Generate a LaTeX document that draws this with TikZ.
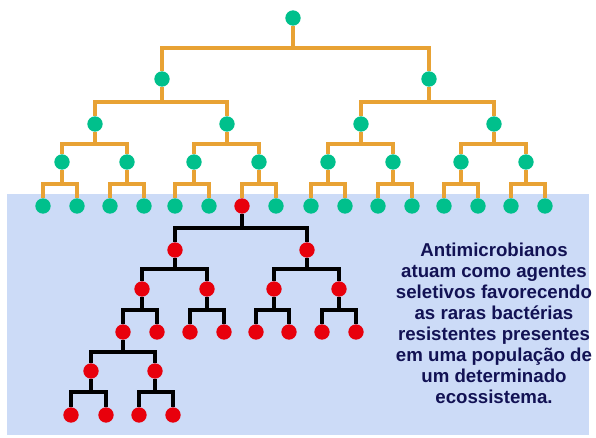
\documentclass[tikz,border=0pt]{standalone}
\usepackage{fontspec}
\setmainfont{Liberation Sans}
\usepackage{tikz}
\usepackage{xcolor}
\usetikzlibrary{shapes, arrows}

\begin{document}
\begin{tikzpicture}[x=0.75pt,y=0.75pt,yscale=-1,xscale=1,
    gdot/.style={circle, minimum size=11.5pt, inner sep=0pt, fill={rgb, 255:red, 0; green, 192; blue, 140 }},
    rdot/.style={circle, minimum size=11.5pt, inner sep=0pt, fill={rgb, 255:red, 232; green, 0; blue, 12 }},
    oline/.style={color={rgb, 255:red, 232; green, 162; blue, 52 }, line width=2.3pt},
    kline/.style={color={rgb, 255:red, 0; green, 0; blue, 0 }, line width=2.3pt}]
    \useasboundingbox (0,0) rectangle (596,437);
    \fill [white] (0,0) rectangle (596,437);

    %Background Rect
    \draw [draw opacity=0][fill={rgb, 255:red, 204; green, 219; blue, 247 }, fill opacity=1] (7,194) rectangle (589,435);

    % Bar levels
    \coordinate (b1) at (0,48);
    \coordinate (b2) at (0,102);
    \coordinate (b3) at (0,144);
    \coordinate (b4) at (0,184);
    \coordinate (c1) at (0,228);
    \coordinate (c2) at (0,269);
    \coordinate (c3) at (0,310);
    \coordinate (c4) at (0,352);
    \coordinate (c5) at (0,392);

    % Green tree
    \draw (293,18) node [gdot] (g1) {};
    \draw (162,79) node [gdot] (g2) {};
    \draw (429,79) node [gdot] (g3) {};
    \draw (95,124) node [gdot] (g4) {};
    \draw (227,124) node [gdot] (g5) {};
    \draw (361,124) node [gdot] (g6) {};
    \draw (494,124) node [gdot] (g7) {};
    \draw (62,162) node [gdot] (g8) {};
    \draw (127,162) node [gdot] (g9) {};
    \draw (194,162) node [gdot] (g10) {};
    \draw (259,162) node [gdot] (g11) {};
    \draw (328,162) node [gdot] (g12) {};
    \draw (393,162) node [gdot] (g13) {};
    \draw (461,162) node [gdot] (g14) {};
    \draw (526,162) node [gdot] (g15) {};
    \draw (43,206) node [gdot] (g16) {};
    \draw (77,206) node [gdot] (g17) {};
    \draw (110,206) node [gdot] (g18) {};
    \draw (144,206) node [gdot] (g19) {};
    \draw (175,206) node [gdot] (g20) {};
    \draw (209,206) node [gdot] (g21) {};
    \draw (242,206) node [rdot] (r1) {};
    \draw (276,206) node [gdot] (g23) {};
    \draw (311,206) node [gdot] (g24) {};
    \draw (345,206) node [gdot] (g25) {};
    \draw (378,206) node [gdot] (g26) {};
    \draw (412,206) node [gdot] (g27) {};
    \draw (444,206) node [gdot] (g28) {};
    \draw (478,206) node [gdot] (g29) {};
    \draw (511,206) node [gdot] (g30) {};
    \draw (545,206) node [gdot] (g31) {};

    % Green connections
    \draw [oline] (g1) -- (g1 |- b1) -| (g2);
    \draw [oline] (g1 |- b1) -| (g3);
    \draw [oline] (g2) -- (g2 |- b2) -| (g4);
    \draw [oline] (g2 |- b2) -| (g5);
    \draw [oline] (g3) -- (g3 |- b2) -| (g6);
    \draw [oline] (g3 |- b2) -| (g7);
    \draw [oline] (g4) -- (g4 |- b3) -| (g8);
    \draw [oline] (g4 |- b3) -| (g9);
    \draw [oline] (g5) -- (g5 |- b3) -| (g10);
    \draw [oline] (g5 |- b3) -| (g11);
    \draw [oline] (g6) -- (g6 |- b3) -| (g12);
    \draw [oline] (g6 |- b3) -| (g13);
    \draw [oline] (g7) -- (g7 |- b3) -| (g14);
    \draw [oline] (g7 |- b3) -| (g15);
    \draw [oline] (g8) -- (g8 |- b4) -| (g16);
    \draw [oline] (g8 |- b4) -| (g17);
    \draw [oline] (g9) -- (g9 |- b4) -| (g18);
    \draw [oline] (g9 |- b4) -| (g19);
    \draw [oline] (g10) -- (g10 |- b4) -| (g20);
    \draw [oline] (g10 |- b4) -| (g21);
    \draw [oline] (g11) -- (g11 |- b4) -| (r1);
    \draw [oline] (g11 |- b4) -| (g23);
    \draw [oline] (g12) -- (g12 |- b4) -| (g24);
    \draw [oline] (g12 |- b4) -| (g25);
    \draw [oline] (g13) -- (g13 |- b4) -| (g26);
    \draw [oline] (g13 |- b4) -| (g27);
    \draw [oline] (g14) -- (g14 |- b4) -| (g28);
    \draw [oline] (g14 |- b4) -| (g29);
    \draw [oline] (g15) -- (g15 |- b4) -| (g30);
    \draw [oline] (g15 |- b4) -| (g31);

    % Red tree
    \draw (175,250) node [rdot] (r2) {};
    \draw (307,250) node [rdot] (r3) {};
    \draw (142,289) node [rdot] (r4) {};
    \draw (207,289) node [rdot] (r5) {};
    \draw (274,289) node [rdot] (r6) {};
    \draw (339,289) node [rdot] (r7) {};
    \draw (123,332) node [rdot] (r8) {};
    \draw (157,332) node [rdot] (r9) {};
    \draw (190,332) node [rdot] (r10) {};
    \draw (224,332) node [rdot] (r11) {};
    \draw (256,332) node [rdot] (r12) {};
    \draw (289,332) node [rdot] (r13) {};
    \draw (322,332) node [rdot] (r14) {};
    \draw (356,332) node [rdot] (r15) {};
    \draw (91,371) node [rdot] (r16) {};
    \draw (155,371) node [rdot] (r17) {};
    \draw (71,415) node [rdot] (r32) {};
    \draw (106,415) node [rdot] (r33) {};
    \draw (139,415) node [rdot] (r34) {};
    \draw (173,415) node [rdot] (r35) {};

    % Red connections
    \draw [kline] (r1) -- (r1 |- c1) -| (r2);
    \draw [kline] (r1 |- c1) -| (r3);
    \draw [kline] (r2) -- (r2 |- c2) -| (r4);
    \draw [kline] (r2 |- c2) -| (r5);
    \draw [kline] (r3) -- (r3 |- c2) -| (r6);
    \draw [kline] (r3 |- c2) -| (r7);
    \draw [kline] (r4) -- (r4 |- c3) -| (r8);
    \draw [kline] (r4 |- c3) -| (r9);
    \draw [kline] (r5) -- (r5 |- c3) -| (r10);
    \draw [kline] (r5 |- c3) -| (r11);
    \draw [kline] (r6) -- (r6 |- c3) -| (r12);
    \draw [kline] (r6 |- c3) -| (r13);
    \draw [kline] (r7) -- (r7 |- c3) -| (r14);
    \draw [kline] (r7 |- c3) -| (r15);
    \draw [kline] (r8) -- (r8 |- c4) -| (r16);
    \draw [kline] (r8 |- c4) -| (r17);
    \draw [kline] (r16) -- (r16 |- c5) -| (r32);
    \draw [kline] (r16 |- c5) -| (r33);
    \draw [kline] (r17) -- (r17 |- c5) -| (r34);
    \draw [kline] (r17 |- c5) -| (r35);

    % Text Node
    \draw (494,323.5) node [color={rgb, 255:red, 18; green, 18; blue, 84 }] [align=center, font=\bfseries\fontsize{14}{15.75}\selectfont] (txt) {Antimicrobianos\\atuam como agentes\\seletivos favorecendo\\as raras bactérias\\resistentes presentes\\em uma população de\\um determinado\\ecossistema.};

\end{tikzpicture}
\end{document}
